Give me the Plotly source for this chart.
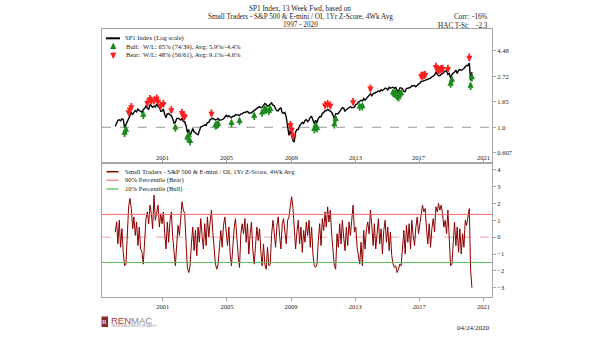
import numpy as np
import pandas as pd
import plotly.graph_objects as go

# ---------------- data ----------------
months = pd.period_range("1998-01", "2020-04", freq="M")
dates = months.to_timestamp() + pd.Timedelta(days=14)

sp_level = [
    980, 1049, 1102, 1112, 1091, 1134, 1121, 957, 1017, 1099, 1164, 1229,
    1280, 1238, 1286, 1335, 1302, 1373, 1329, 1320, 1283, 1363, 1389, 1469,
    1394, 1366, 1499, 1452, 1421, 1455, 1431, 1518, 1437, 1429, 1315, 1320,
    1366, 1240, 1160, 1249, 1256, 1224, 1211, 1134, 1041, 1060, 1139, 1148,
    1130, 1107, 1147, 1077, 1067, 990, 870, 916, 815, 886, 936, 880,
    856, 841, 830, 917, 964, 975, 990, 1008, 996, 1051, 1058, 1112,
    1131, 1145, 1126, 1107, 1121, 1141, 1102, 1104, 1115, 1130, 1174, 1212,
    1181, 1204, 1181, 1157, 1192, 1191, 1234, 1220, 1229, 1207, 1249, 1248,
    1280, 1281, 1295, 1311, 1270, 1270, 1277, 1304, 1336, 1378, 1401, 1418,
    1438, 1407, 1421, 1482, 1531, 1503, 1455, 1474, 1527, 1549, 1481, 1468,
    1379, 1331, 1323, 1386, 1400, 1280, 1267, 1283, 1165, 969, 820, 903,
    826, 735, 720, 873, 919, 919, 987, 1021, 1057, 1036, 1096, 1115,
    1074, 1104, 1169, 1187, 1089, 1031, 1102, 1049, 1141, 1183, 1181, 1258,
    1286, 1327, 1326, 1364, 1345, 1321, 1292, 1219, 1131, 1253, 1247, 1258,
    1312, 1366, 1408, 1398, 1310, 1362, 1379, 1407, 1441, 1412, 1416, 1426,
    1498, 1515, 1569, 1598, 1631, 1606, 1686, 1633, 1682, 1757, 1806, 1848,
    1783, 1859, 1872, 1884, 1924, 1960, 1931, 2003, 1972, 2018, 2068, 2059,
    1995, 2105, 2068, 2086, 2107, 2063, 2104, 1972, 1920, 2079, 2080, 2044,
    1940, 1932, 2060, 2065, 2097, 2099, 2174, 2171, 2168, 2126, 2199, 2239,
    2279, 2364, 2363, 2384, 2412, 2423, 2470, 2472, 2519, 2575, 2648, 2674,
    2824, 2714, 2641, 2648, 2705, 2718, 2816, 2902, 2914, 2712, 2760, 2507,
    2704, 2784, 2834, 2946, 2752, 2942, 2980, 2926, 2977, 3038, 3141, 3231,
    3226, 3380, 2400, 2837,
]
sp_base = 960.0

z_score = [
    0.3, 0.9, -0.4, 1.0, -0.6, 0.5, -0.9, -1.7, -1.6, 0.4, 1.8, 2.3,
    1.7, 0.5, 1.2, 0.1, 0.9, -0.5, 0.6, -0.7, -0.9, -1.6, 0.3, 1.1,
    1.5, 0.8, 1.9, 1.4, 0.5, 2.5, 1.0, 1.6, 1.9, 0.6, 1.4, 0.8,
    1.5, 0.2, -0.7, 0.9, -0.3, 1.0, 1.5, 0.0, -1.0, -1.7, -0.4, 0.7,
    0.1, 1.0, 2.1, 1.6, 1.4, -0.3, -1.8, -2.1, -1.7, -0.4, 0.6, -0.8,
    0.4, -1.1, 0.6, -0.3, 1.1, 0.1, -0.7, 0.8, -0.5, 1.2, 0.0, 0.9,
    1.6, 0.3, -0.9, -1.6, -1.9, -1.6, -0.6, 0.4, -0.6, 0.7, 1.2, 0.1,
    -0.5, 0.6, -1.0, -1.7, -0.3, 0.5, 1.1, -0.2, -1.1, -1.8, 0.2, 0.8,
    0.2, 1.1, -0.3, 0.8, -1.0, 0.2, 0.9, -0.8, -1.6, -0.5, 0.6, -0.2,
    0.5, -0.9, -1.7, -0.4, -1.6, -1.9, -0.6, -1.7, -1.6, 0.1, 1.0, 0.3,
    -0.6, 0.7, 1.2, 0.1, -0.7, 0.8, 1.1, 0.3, -0.4, 1.0, 1.2, 1.8,
    2.4, 1.7, 0.5, -0.7, 0.3, 1.0, -0.4, 0.6, -0.9, 0.4, -0.3, 0.9,
    0.1, 1.0, -0.6, 0.6, -1.0, -1.7, -1.8, -1.6, -0.2, 0.8, -0.5, 1.1,
    0.4, 1.5, 0.6, 1.8, 0.9, 1.6, 0.2, -0.9, -1.7, -1.9, 0.2, -0.6,
    0.8, -0.4, 1.0, 0.0, -0.8, 0.6, -0.5, 0.9, 0.1, 1.0, 1.9, 0.3,
    0.6, -0.6, -1.2, -1.6, -0.3, -1.7, 0.4, -0.7, 0.5, 0.9, 0.2, 1.6,
    0.7, -0.5, 0.8, -0.7, 0.2, 1.1, -0.4, 0.5, -1.0, 0.4, 1.0, -0.3,
    0.6, -0.8, 0.3, -1.1, -1.6, -1.8, -1.7, -2.1, -1.9, -1.6, -1.7, -0.6,
    0.4, -1.0, 0.7, -0.3, 0.8, -0.7, 1.0, 0.1, -0.5, 0.6, 1.2, 0.2,
    0.9, 1.6, 1.9, 1.5, 1.7, 0.5, -0.4, 0.8, -0.6, 0.5, 1.1, 0.3,
    1.8, 1.5, 2.0, 1.6, 1.9, 1.4, 0.6, 1.0, 0.2, 1.6, -0.7, -1.7,
    -1.6, 0.1, 0.9, -0.5, 0.6, -0.9, 0.5, -1.0, 0.2, -0.6, 1.0, 0.7,
    1.2, 1.7, -1.9, -3.0,
]
bear_pct = 1.35   # 90% percentile
bull_pct = -1.5   # 10% percentile
index_ref = 1.0   # dashed reference level, top panel

year_ticks = [2001, 2005, 2009, 2013, 2017, 2021]
idx_ticks = [0.607, 1.0, 1.65, 2.72, 4.48]
idx_ticktext = ["0.607", "1.0", "1.65", "2.72", "4.48"]
z_ticks = [-3, -2, -1, 0, 1, 2, 3, 4]

title_lines = ["SP1 Index, 13 Week Fwd, based on",
               "Small Traders - S&P 500 & E-mini / OI, 1Yr Z-Score, 4Wk Avg",
               "1997 - 2020"]
stats_labels = ["Corr:", "HAC T-St:"]
stats_values = ["-16%", "-2.3"]
bull_label = ["Bull:", "W/L: 65% (74/39), Avg: 5.9%/-4.4%"]
bear_label = ["Bear:", "W/L: 48% (56/61), Avg: 9.1%/-4.6%"]
idx_name = "SP1 Index (Log scale)"
z_name = "Small Traders - S&P 500 & E-mini / OI, 1Yr Z-Score, 4Wk Avg"
bear_name = "90% Percentile (Bear)"
bull_name = "10% Percentile (Bull)"
date_stamp = "04/24/2020"

sp1 = np.array(sp_level) / sp_base
z = np.array(z_score)
assert len(sp1) == len(dates) == len(z)

# ---------------- style ----------------
W, H = 605, 341
L, R, T, B = 102, 113, 29, 44
SERIF = "Liberation Serif, Times New Roman, serif"
FRAME = "#a6a6a6"
TXT = "#222222"
GREEN_ARROW = "#1c8a1c"
RED_ARROW = "#ff2020"
Z_COLOR = "#8b0000"
BEAR_COLOR = "#ff6a6a"
BULL_COLOR = "#5cb85c"


def px(xp):
    return (xp - L) / (W - L - R)


def py(yp):
    return (H - B - yp) / (H - T - B)


x_range = ["1997-03-18", "2021-07-16"]
y1_range = [np.log10(np.exp(-0.70)), np.log10(np.exp(1.927))]
y2_range = [-3.55, 4.4]

fig = go.Figure()
fig.add_trace(go.Scatter(x=x_range, y=[index_ref, index_ref], mode="lines",
                         line=dict(color="#9a9a9a", width=1, dash="dash"),
                         xaxis="x", yaxis="y", showlegend=False, hoverinfo="skip"))
fig.add_trace(go.Scatter(x=dates, y=sp1, mode="lines", name=idx_name,
                         line=dict(color="black", width=1.4),
                         xaxis="x", yaxis="y", showlegend=False, hoverinfo="skip"))
fig.add_trace(go.Scatter(x=dates, y=z, mode="lines", name=z_name,
                         line=dict(color=Z_COLOR, width=1),
                         xaxis="x2", yaxis="y2", showlegend=False, hoverinfo="skip"))

axis_common = dict(showline=True, linecolor=FRAME, linewidth=1, mirror=True,
                   showgrid=False, zeroline=False, tickcolor=FRAME, ticklen=3,
                   tickfont=dict(family=SERIF, size=6.5, color=TXT))

tick_dates = [f"{y}-01-01" for y in year_ticks]
tick_text = [str(y) for y in year_ticks]

fig.update_layout(
    width=W, height=H, autosize=False,
    margin=dict(l=L, r=R, t=T, b=B, pad=0),
    paper_bgcolor="white", plot_bgcolor="white",
    showlegend=False,
    xaxis=dict(axis_common, domain=[0, 1], anchor="y", type="date", range=x_range,
               tickvals=tick_dates, ticks="inside", showticklabels=False),
    yaxis=dict(axis_common, domain=[0.5, 1], anchor="x", type="log", range=y1_range,
               side="right", tickvals=idx_ticks, ticktext=idx_ticktext, ticks="outside"),
    xaxis2=dict(axis_common, domain=[0, 1], anchor="y2", type="date", range=x_range,
                tickvals=tick_dates, ticktext=tick_text, ticks="outside"),
    yaxis2=dict(axis_common, domain=[0, 0.5], anchor="x2", range=y2_range,
                side="right", tickvals=z_ticks, ticks="outside"),
)

shapes = [
    dict(type="line", xref="x2 domain", yref="y2", x0=0, x1=1, y0=0, y1=0,
         line=dict(color="#f0a0a0", width=1, dash="dash"), layer="below"),
    dict(type="line", xref="x2 domain", yref="y2", x0=0, x1=1, y0=bear_pct, y1=bear_pct,
         line=dict(color=BEAR_COLOR, width=1)),
    dict(type="line", xref="x2 domain", yref="y2", x0=0, x1=1, y0=bull_pct, y1=bull_pct,
         line=dict(color=BULL_COLOR, width=1)),
]

annotations = []

# year labels inside the top panel (placed on the date axis)
for d, t in zip(tick_dates, tick_text):
    annotations.append(dict(x=d, y=0.042, xref="x", yref="y domain", text=t,
                            showarrow=False, xanchor="center", yanchor="middle",
                            font=dict(family=SERIF, size=6.5, color=TXT)))

# signal arrows derived from the z-score thresholds
ARROW = dict(text="", showarrow=True, ax=0, arrowhead=2, arrowsize=0.7,
             arrowwidth=1.8, standoff=1)
for d, v, zz in zip(dates, sp1, z):
    if zz > bear_pct:
        color, ay = RED_ARROW, -11
    elif zz < bull_pct:
        color, ay = GREEN_ARROW, 11
    else:
        continue
    annotations.append(dict(ARROW, x=d.strftime("%Y-%m-%d"), y=np.log10(v), xref="x",
                            yref="y", ay=ay, arrowcolor=color))


def txt(text, xp, yp, size=6.6, xanchor="left", color=TXT, family=SERIF):
    annotations.append(dict(text=text, x=px(xp), y=py(yp), xref="paper", yref="paper",
                            xanchor=xanchor, yanchor="middle", showarrow=False,
                            font=dict(family=family, size=size, color=color)))


# titles
for line, yp in zip(title_lines, [9, 17, 25]):
    txt(line, 300, yp, size=7.2, xanchor="center")
for lab, val, yp in zip(stats_labels, stats_values, [17, 26]):
    txt(lab, 471, yp, size=7.2, xanchor="right")
    txt(val, 490, yp, size=7.2, xanchor="right")

# top legend
shapes.append(dict(type="line", xref="paper", yref="paper", x0=px(106), x1=px(120),
                   y0=py(38.3), y1=py(38.3), line=dict(color="black", width=2)))
txt(idx_name, 123, 38.3)
for lab, yp, color, ay in [(bull_label, 46.7, GREEN_ARROW, 8), (bear_label, 55, RED_ARROW, -8)]:
    tip = yp - 4 if ay > 0 else yp + 4
    annotations.append(dict(ARROW, x=px(113.3), y=py(tip), xref="paper", yref="paper",
                            ay=ay, arrowcolor=color, standoff=0))
    txt(lab[0], 124, yp)
    txt(lab[1], 141, yp)

# bottom legend
for name, yp, color in [(z_name, 171.7, Z_COLOR), (bear_name, 180.3, "#ff9090"),
                        (bull_name, 189, "#6cc46c")]:
    shapes.append(dict(type="line", xref="paper", yref="paper", x0=px(106.5), x1=px(118.5),
                       y0=py(yp), y1=py(yp), line=dict(color=color, width=1.5)))
    txt(name, 123.3, yp)

# logo
shapes.append(dict(type="rect", xref="paper", yref="paper", x0=px(101.5), x1=px(108),
                   y0=py(327), y1=py(316.5), fillcolor="#8c2a2a", line=dict(width=0)))
txt("R", 104.8, 321.8, size=7, xanchor="center", color="white")
txt("<span style='color:#b03a3a'>REN</span><span style='color:#8a8a8a'>MAC</span>",
    108.5, 320.5, size=9.5, family="Liberation Sans, Arial, sans-serif")
txt("RENAISSANCE MACRO RESEARCH", 109.5, 326, size=2.6, color="#999999",
    family="Liberation Sans, Arial, sans-serif")

# date stamp
txt(date_stamp, 491, 328, size=7, xanchor="right")

fig.update_layout(shapes=shapes, annotations=annotations)
fig.write_html("out.html")
